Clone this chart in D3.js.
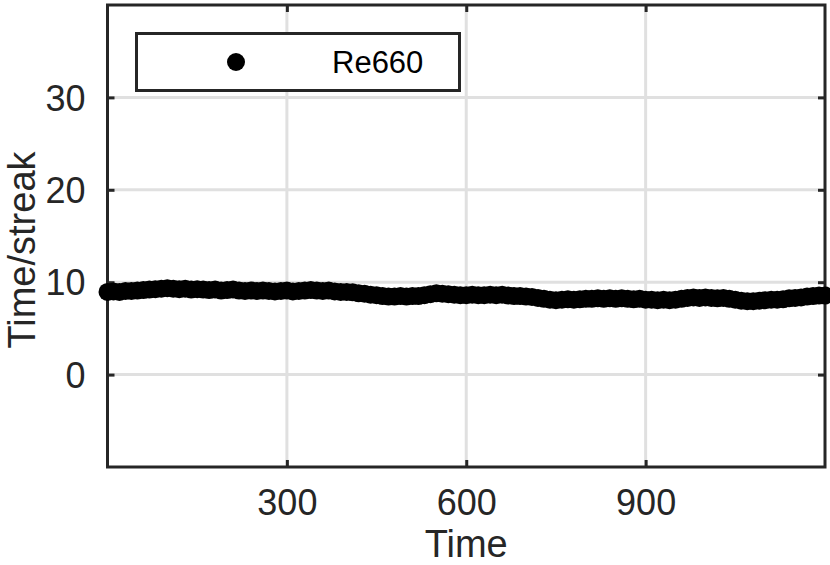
<!DOCTYPE html>
<html>
<head>
<meta charset="utf-8">
<script src="https://cdn.jsdelivr.net/npm/d3@7"></script>
<style>
  html, body { margin: 0; padding: 0; background: #fff; }
  svg { display: block; font-family: "Liberation Sans", Arial, Helvetica, sans-serif; }
</style>
</head>
<body>
<svg id="chart" width="830" height="565"></svg>
<script>
// ---- data ----
const times = d3.range(0, 1201, 10);
const streakValues = [
  8.95, 9.0, 8.95, 9.05, 9.05, 9.1, 9.15, 9.2, 9.25, 9.3,
  9.35, 9.3, 9.25, 9.3, 9.2, 9.25, 9.2, 9.15, 9.2, 9.1,
  9.15, 9.2, 9.1, 9.05, 9.1, 9.05, 9.1, 9.05, 9.0, 9.05,
  9.1, 9.0, 9.05, 9.1, 9.15, 9.1, 9.05, 9.1, 9.0, 8.95,
  8.95, 8.9, 8.8, 8.75, 8.65, 8.6, 8.5, 8.45, 8.45, 8.5,
  8.45, 8.5, 8.5, 8.6, 8.7, 8.8, 8.75, 8.7, 8.65, 8.6,
  8.6, 8.65, 8.6, 8.6, 8.65, 8.6, 8.65, 8.55, 8.5, 8.5,
  8.45, 8.4, 8.3, 8.2, 8.1, 8.05, 8.1, 8.15, 8.1, 8.15,
  8.2, 8.2, 8.25, 8.2, 8.25, 8.2, 8.25, 8.2, 8.15, 8.2,
  8.1, 8.1, 8.05, 8.1, 8.05, 8.1, 8.2, 8.3, 8.35, 8.3,
  8.35, 8.3, 8.25, 8.3, 8.2, 8.1, 8.0, 7.95, 7.95, 8.0,
  8.05, 8.1, 8.1, 8.15, 8.25, 8.3, 8.35, 8.45, 8.5, 8.55,
  8.55
];
const xTicks = [300, 600, 900];
const yTicks = [0, 10, 20, 30];
const xDomain = [0, 1200];
const yDomain = [-10, 40];
const seriesName = "Re660";
const xLabel = "Time";
const yLabel = "Time/streak";

// ---- layout ----
const svg = d3.select("#chart");
const L = 107.5, R = 825, T = 5, B = 467;
const x = d3.scaleLinear().domain(xDomain).range([L, R]);
const y = d3.scaleLinear().domain(yDomain).range([B, T]);
const axisColor = "#262626";
const gridColor = "#e0e0e0";

// background
svg.append("rect").attr("x", 0).attr("y", 0).attr("width", 830).attr("height", 565).attr("fill", "#fff");

// grid
const grid = svg.append("g");
grid.selectAll(".gx").data(xTicks).join("line")
  .attr("x1", d => x(d)).attr("x2", d => x(d)).attr("y1", T).attr("y2", B)
  .attr("stroke", gridColor).attr("stroke-width", 3);
grid.selectAll(".gy").data(yTicks).join("line")
  .attr("x1", L).attr("x2", R).attr("y1", d => y(d)).attr("y2", d => y(d))
  .attr("stroke", gridColor).attr("stroke-width", 3);

// axes (inward ticks on all sides, drawn via d3 axes)
const tickLen = 7;
const bottomAxis = d3.axisBottom(x).tickValues(xTicks).tickSize(-tickLen).tickPadding(22).tickFormat(d3.format("d"));
const topAxis = d3.axisTop(x).tickValues(xTicks).tickSize(-tickLen).tickFormat("");
const leftAxis = d3.axisLeft(y).tickValues(yTicks).tickSize(-tickLen).tickPadding(22).tickFormat(d3.format("d"));
const rightAxis = d3.axisRight(y).tickValues(yTicks).tickSize(-tickLen).tickFormat("");

function styleAxis(g) {
  g.select(".domain").remove();
  g.selectAll(".tick line").attr("stroke", axisColor).attr("stroke-width", 3);
  g.selectAll(".tick text").attr("fill", axisColor).style("font-size", "36px")
    .style("font-family", "'Liberation Sans', Arial, Helvetica, sans-serif");
}
svg.append("g").attr("transform", `translate(0,${B})`).call(bottomAxis).call(styleAxis)
  .selectAll(".tick text").attr("dy", "0.71em");
svg.append("g").attr("transform", `translate(0,${T})`).call(topAxis).call(styleAxis);
svg.append("g").attr("transform", `translate(${L},0)`).call(leftAxis).call(styleAxis)
  .selectAll(".tick text").attr("dy", "0.35em");
svg.append("g").attr("transform", `translate(${R},0)`).call(rightAxis).call(styleAxis);

// box
svg.append("rect").attr("x", L).attr("y", T).attr("width", R - L).attr("height", B - T)
  .attr("fill", "none").attr("stroke", axisColor).attr("stroke-width", 3);

// data markers
const pts = times.map((t, i) => ({ t, v: streakValues[i] }));
svg.append("g").selectAll("circle").data(pts).join("circle")
  .attr("cx", d => x(d.t)).attr("cy", d => y(d.v)).attr("r", 9).attr("fill", "#000");

// axis labels
svg.append("text").attr("x", (L + R) / 2).attr("y", 557).attr("text-anchor", "middle")
  .attr("fill", axisColor).style("font-size", "38px").text(xLabel);
svg.append("text").attr("transform", `translate(35,${(T + B) / 2 + 14}) rotate(-90)`)
  .attr("text-anchor", "middle").attr("fill", axisColor).style("font-size", "38px").text(yLabel);

// legend
const lg = svg.append("g");
lg.append("rect").attr("x", 136.5).attr("y", 33.5).attr("width", 323).attr("height", 57)
  .attr("fill", "#fff").attr("stroke", axisColor).attr("stroke-width", 3);
lg.append("circle").attr("cx", 236).attr("cy", 62).attr("r", 9).attr("fill", "#000");
lg.append("text").attr("x", 332).attr("y", 73).attr("fill", "#000").style("font-size", "31px").text(seriesName);
</script>
</body>
</html>
